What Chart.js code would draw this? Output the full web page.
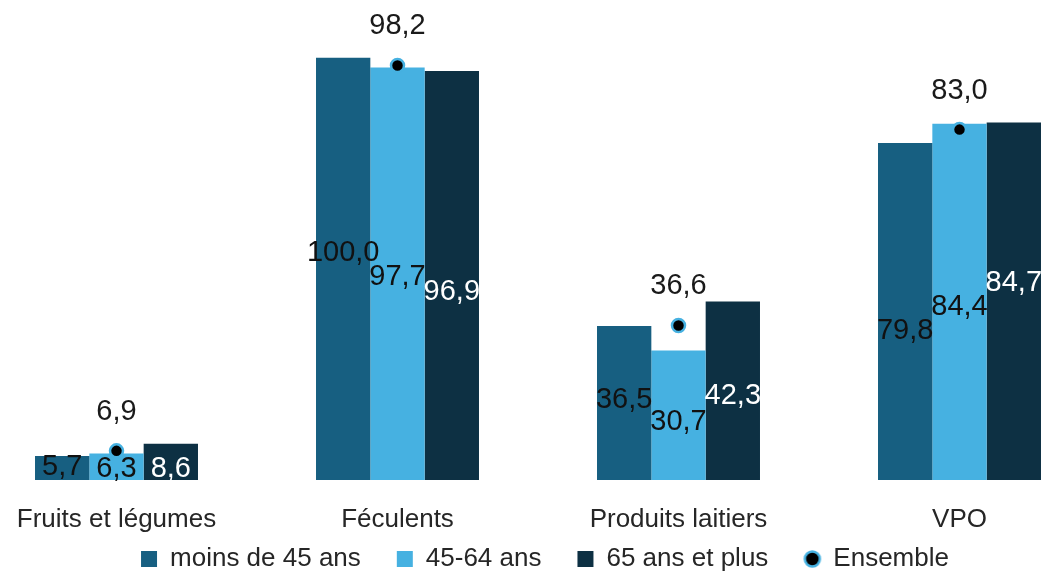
<!DOCTYPE html>
<html>
<head>
<meta charset="utf-8">
<script src="https://cdn.jsdelivr.net/npm/chart.js@4.4.1/dist/chart.umd.min.js"></script>
<style>
html, body { margin: 0; padding: 0; background: #fff; overflow: hidden; width: 1046px; height: 573px; }
#wrap { position: absolute; left: -24px; top: 0; width: 1124px; height: 590px; }
</style>
</head>
<body>
<div id="wrap"><canvas id="c"></canvas></div>
<script>
const categories = ['Fruits et légumes', 'Féculents', 'Produits laitiers', 'VPO'];
const seriesNames = ['moins de 45 ans', '45-64 ans', '65 ans et plus', 'Ensemble'];
const moins45 = [5.7, 100.0, 36.5, 79.8];
const age4564 = [6.3, 97.7, 30.7, 84.4];
const plus65 = [8.6, 96.9, 42.3, 84.7];
const ensemble = [6.9, 98.2, 36.6, 83.0];

const colors = ['#175F81', '#46B1E1', '#0D3043'];
const labelColors = ['#111', '#111', '#fff'];
// small vertical shifts (px) of the value labels, as in the original
const labelNudge = [[-1, -16, -3, 19], [2, 3, 7, 5], [7, 17, 5, -18]];

const fmt = v => v.toFixed(1).replace('.', ',');

// legend marker for "Ensemble": black dot with a light blue ring
const dot = document.createElement('canvas');
dot.width = 20; dot.height = 20;
(() => {
    const g = dot.getContext('2d');
    g.beginPath();
    g.arc(10, 10, 7.5, 0, Math.PI * 2);
    g.fillStyle = '#000';
    g.fill();
    g.lineWidth = 2.5;
    g.strokeStyle = '#46B1E1';
    g.stroke();
})();

const valueLabels = {
    id: 'valueLabels',
    afterDraw(chart) {
        const ctx = chart.ctx;
        ctx.save();
        ctx.font = '29px "Liberation Sans", Arial, sans-serif';
        ctx.textAlign = 'center';
        ctx.textBaseline = 'middle';
        chart.data.datasets.forEach((ds, i) => {
            const meta = chart.getDatasetMeta(i);
            meta.data.forEach((el, j) => {
                if (ds.type === 'line') {
                    ctx.fillStyle = '#1a1a1a';
                    ctx.fillText(fmt(ds.data[j]), el.x, el.y - 39);
                } else {
                    ctx.fillStyle = labelColors[i];
                    ctx.fillText(fmt(ds.data[j]), el.x, (el.y + el.base) / 2 + labelNudge[i][j]);
                }
            });
        });
        ctx.restore();
    }
};

const legendShift = {
    id: 'legendShift',
    afterLayout(chart) {
        const lg = chart.legend;
        lg.top -= 8; lg.bottom -= 8;
        lg.left += 7; lg.right += 7;
    }
};

new Chart(document.getElementById('c'), {
    type: 'bar',
    data: {
        labels: categories,
        datasets: [
            { label: seriesNames[0], data: moins45, backgroundColor: colors[0], order: 1 },
            { label: seriesNames[1], data: age4564, backgroundColor: colors[1], order: 1 },
            { label: seriesNames[2], data: plus65, backgroundColor: colors[2], order: 1 },
            {
                type: 'line', label: seriesNames[3], data: ensemble, showLine: false, order: 0,
                pointRadius: 6.5, pointBackgroundColor: '#000', pointBorderColor: '#46B1E1', pointBorderWidth: 2.5
            }
        ]
    },
    options: {
        responsive: true,
        maintainAspectRatio: false,
        animation: false,
        layout: { padding: 0, autoPadding: false },
        datasets: { bar: { categoryPercentage: 0.58, barPercentage: 1 } },
        scales: {
            x: {
                grid: { display: false, drawTicks: false },
                border: { display: false },
                ticks: { color: '#262626', padding: 24, font: { family: '"Liberation Sans", Arial, sans-serif', size: 26 } },
                afterFit: s => { s.height = 64; }
            },
            y: { display: false, min: 0, max: 113.7 }
        },
        plugins: {
            tooltip: { enabled: false },
            legend: {
                position: 'bottom',
                labels: {
                    usePointStyle: true,
                    boxWidth: 16,
                    boxHeight: 16,
                    padding: 10,
                    color: '#262626',
                    font: { family: '"Liberation Sans", Arial, sans-serif', size: 26 },
                    generateLabels: chart => chart.data.datasets.map((ds, i) => ({
                        text: i < 3 ? ds.label + '\u2003' : ds.label,
                        fillStyle: i < 3 ? colors[i] : '#000',
                        strokeStyle: i < 3 ? colors[i] : '#46B1E1',
                        lineWidth: 0,
                        pointStyle: i < 3 ? 'rect' : dot,
                        fontColor: '#262626',
                        datasetIndex: i
                    }))
                }
            }
        }
    },
    plugins: [valueLabels, legendShift]
});
</script>
</body>
</html>
